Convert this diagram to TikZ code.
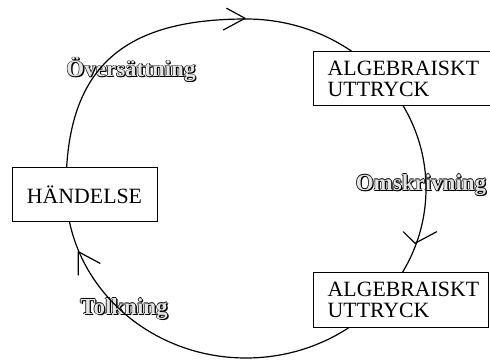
\documentclass[tikz,border=0pt]{standalone}
\usepackage{fontspec}
\setmainfont{Liberation Serif}
\newcommand\outlinetxt[1]{%
 \makebox[0pt][l]{\hspace*{1.3pt}\raisebox{-1.3pt}{\color{black}#1}}%
 \makebox[0pt][l]{\hspace*{0.6pt}{\color{black}#1}}%
 \makebox[0pt][l]{\hspace*{-0.6pt}{\color{black}#1}}%
 \makebox[0pt][l]{\raisebox{0.6pt}{\color{black}#1}}%
 \makebox[0pt][l]{\raisebox{-0.6pt}{\color{black}#1}}%
 {\color{gray!20}#1}}
\tikzset{
 box/.style={draw, fill=white, line width=1pt, minimum height=54pt, inner sep=0pt},
 boxtext/.style={inner sep=0pt, align=left, font=\fontsize{21.8}{21}\selectfont},
 cyc/.style={line width=1.2pt},
 barb/.style={line width=1.2pt, line cap=round, line join=round},
 lab/.style={inner sep=0pt, font=\fontsize{23}{25}\selectfont\bfseries}
}
\begin{document}
\begin{tikzpicture}[x=1pt,y=1pt]
\useasboundingbox (0,0) rectangle (490,359);
% labels
\node[lab] (l1) at (131,289) {\outlinetxt{Översättning}};
\node[lab] (l2) at (421,173.5) {\outlinetxt{Omskrivning}};
\node[lab] (l3) at (124,50) {\outlinetxt{Tolkning}};
% cycle
\draw[cyc] (66,170.5) .. controls (66,289) and (120,340) .. (246,340)
  arc[start angle=90, end angle=-180, x radius=180, y radius=169.5];
% boxes
\node[box, minimum width=145pt, font=\fontsize{21.8}{21}\selectfont] (h) at (84.5,164) {HÄNDELSE};
\node[box, minimum width=182pt] (a1) at (404,280.5) {};
\node[boxtext, anchor=west] (t1) at ([xshift=15pt]a1.west) {ALGEBRAISKT\\UTTRYCK};
\node[box, minimum width=175pt] (a2) at (400.5,59) {};
\node[boxtext, anchor=west] (t2) at ([xshift=15pt]a2.west) {ALGEBRAISKT\\UTTRYCK};
% arrowheads
\draw[barb] (226.7,350.7) -- (245,340.7) -- (223.3,329);
\draw[barb] (403.3,127.3) -- (415,115.7) -- (436.7,127.3);
\draw[barb] (100,95.7) -- (78.3,107.3) -- (78.3,84);
\end{tikzpicture}
\end{document}
